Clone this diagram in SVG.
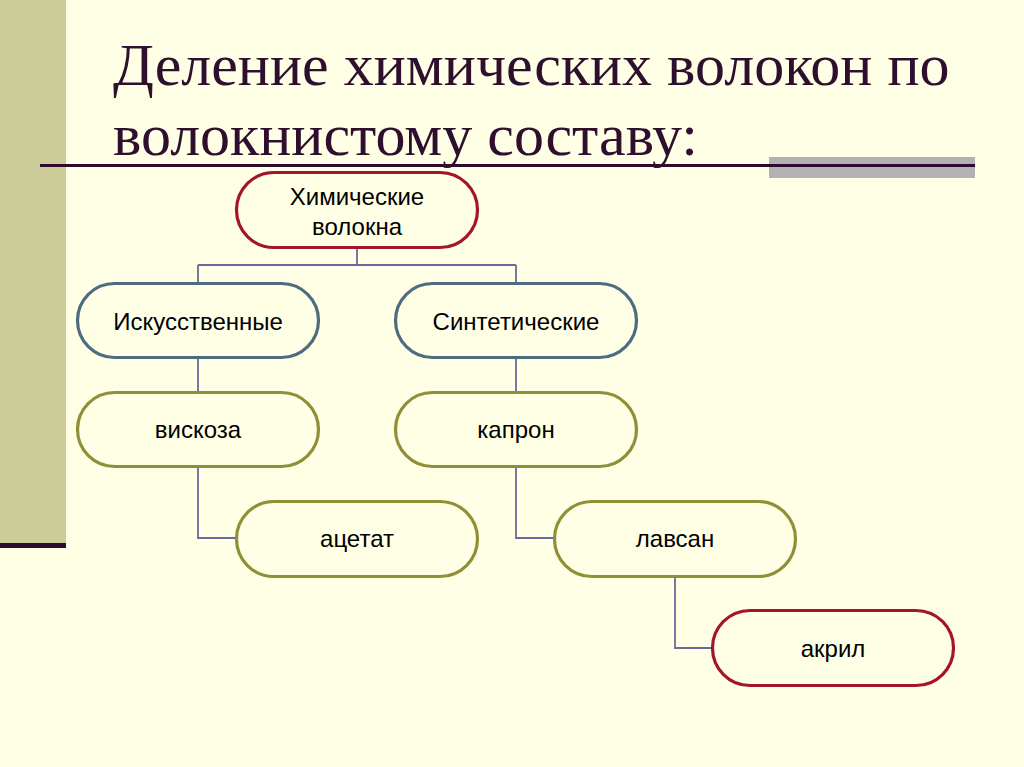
<svg xmlns="http://www.w3.org/2000/svg" width="1024" height="767" viewBox="0 0 1024 767">
<style>
.node rect{fill:#ffffe6;stroke-width:3.2}
.red rect{stroke:#a3142e}
.blue rect{stroke:#4e6b80}
.olive rect{stroke:#8f8f38}
.node text{font-family:"Liberation Sans",Arial,sans-serif;font-size:24px;fill:#000;text-anchor:middle}
.title{font-family:"Liberation Serif","Times New Roman",serif;font-size:60px;fill:#2e0f2e}
#connectors path{fill:none;stroke:#6a6a9c;stroke-width:1.8}
</style>
<rect x="0" y="0" width="1024" height="767" fill="#ffffe5"/>
<rect x="0" y="0" width="66" height="543" fill="#cccc99"/>
<rect x="0" y="543" width="66" height="5" fill="#2e0a2e"/>
<rect x="769" y="157" width="206" height="21" fill="#b2b2b2"/>
<rect x="40" y="164" width="935" height="3" fill="#2e0a2e"/>
<text class="title" x="113" y="85">Деление химических волокон по</text>
<text class="title" x="113" y="155">волокнистому составу:</text>
<g id="connectors">
<path d="M357 249V265M198 265H516M198 265V283M516 265V283"/>
<path d="M198 358V392M516 358V392"/>
<path d="M198 467V538H236M516 467V538H555"/>
<path d="M675 577V648H713"/>
</g>
<g id="n-chem" class="node red">
<rect x="236.5" y="172.5" width="241" height="75" rx="37.5"/>
<text x="357" y="205">Химические</text>
<text x="357" y="235">волокна</text>
</g>
<g id="n-iskus" class="node blue">
<rect x="77.5" y="283.5" width="241" height="74" rx="37"/>
<text x="198" y="330">Искусственные</text>
</g>
<g id="n-sint" class="node blue">
<rect x="395.5" y="283.5" width="241" height="74" rx="37"/>
<text x="516" y="330">Синтетические</text>
</g>
<g id="n-viskoza" class="node olive">
<rect x="77.5" y="392.5" width="241" height="74" rx="37"/>
<text x="198" y="438">вискоза</text>
</g>
<g id="n-kapron" class="node olive">
<rect x="395.5" y="392.5" width="241" height="74" rx="37"/>
<text x="516" y="438">капрон</text>
</g>
<g id="n-acetat" class="node olive">
<rect x="236.5" y="501.5" width="241" height="75" rx="37.5"/>
<text x="357" y="547">ацетат</text>
</g>
<g id="n-lavsan" class="node olive">
<rect x="554.5" y="501.5" width="241" height="75" rx="37.5"/>
<text x="675" y="547">лавсан</text>
</g>
<g id="n-akril" class="node red">
<rect x="712.5" y="610.5" width="241" height="75" rx="37.5"/>
<text x="833" y="657">акрил</text>
</g>
</svg>
